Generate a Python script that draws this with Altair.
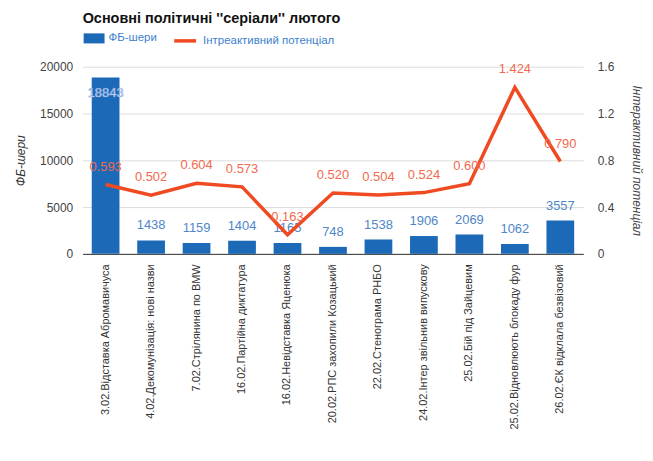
import altair as alt
import pandas as pd

categories = [
    "3.02.Відставка Абромавичуса",
    "4.02.Декомунізація: нові назви",
    "7.02.Стрілянина по BMW",
    "16.02.Партійна диктатура",
    "16.02.Невідставка Яценюка",
    "20.02.РПС захопили Козацький",
    "22.02.Стенограма РНБО",
    "24.02.Інтер звільнив випускову",
    "25.02.Бій під Зайцевим",
    "25.02.Відновлюють блокаду фур",
    "26.02.ЄК відклала безвізовий",
]
fb_shares = [18843, 1438, 1159, 1404, 1165, 748, 1538, 1906, 2069, 1062, 3557]
potential = [0.593, 0.502, 0.604, 0.573, 0.163, 0.520, 0.504, 0.524, 0.600, 1.424, 0.790]
left_ticks = [0, 5000, 10000, 15000, 20000]
right_ticks = [0, 0.4, 0.8, 1.2, 1.6]

df = pd.DataFrame({"cat": categories, "fb": fb_shares, "pot": potential})

FONT = "Arial, Liberation Sans"
BLUE = "#1c69b7"
RED = "#f04a22"

x = alt.X(
    "cat:N",
    sort=None,
    title=None,
    scale=alt.Scale(paddingInner=0.39, paddingOuter=0.2, round=False),
    axis=alt.Axis(
        labelAngle=270,
        labelAlign="right",
        labelBaseline="middle",
        labelPadding=10,
        labelFontSize=11,
        labelColor="#333",
        labelFont=FONT,
        ticks=False,
        domainColor="#333",
        labelLimit=400,
    ),
)

base = alt.Chart(df)

bars = base.mark_bar(color=BLUE).encode(
    x=x,
    y=alt.Y(
        "fb:Q",
        scale=alt.Scale(domain=[0, 20000]),
        axis=alt.Axis(
            values=left_ticks,
            format="d",
            title="ФБ-шери",
            titleFontStyle="italic",
            titleFontWeight="normal",
            titleFontSize=12,
            titleColor="#333",
            titleFont=FONT,
            titlePadding=12,
            labelFontSize=12,
            labelColor="#444",
            labelFont=FONT,
            labelPadding=10,
            ticks=False,
            domain=False,
            grid=True,
            gridColor="#dddddd",
        ),
    ),
    fill=alt.Fill(
        "s1:N",
        scale=alt.Scale(range=[BLUE]),
        legend=alt.Legend(
            title=None,
            orient="none",
            legendX=1,
            legendY=-39,
            symbolType="M-1,-0.48H1V0.48H-1Z",
            symbolSize=441,
            symbolStrokeWidth=0,
            labelFontSize=11.5,
            labelColor="#3d7fcc",
            labelFont=FONT,
            labelOffset=4,
            padding=0,
        ),
    ),
).transform_calculate(s1="'ФБ-шери'")

bar_text = base.transform_filter("datum.fb < 15000").mark_text(
    dy=-15, fontSize=13, color="#4f86c9", font=FONT
).encode(x=x, y="fb:Q", text=alt.Text("fb:Q", format="d"))

bar_text_in = base.transform_filter("datum.fb >= 15000").mark_text(
    dy=16, fontSize=13, fill="#ffffff", stroke="#7aa3dc", strokeWidth=0.6, font=FONT
).encode(x=x, y="fb:Q", text=alt.Text("fb:Q", format="d"))

line = base.mark_line(strokeWidth=3.5).encode(
    x=x,
    y=alt.Y(
        "pot:Q",
        scale=alt.Scale(domain=[0, 1.6]),
        axis=alt.Axis(
            orient="right",
            values=right_ticks,
            format=".1~f",
            title="Інтерактивний потенціал",
            titleAngle=90,
            titleFontStyle="italic",
            titleFontWeight="normal",
            titleFontSize=12,
            titleColor="#444",
            titleFont=FONT,
            titlePadding=16,
            labelFontSize=12,
            labelColor="#444",
            labelFont=FONT,
            labelPadding=14,
            ticks=False,
            domain=False,
            grid=False,
        ),
    ),
    stroke=alt.Stroke(
        "s2:N",
        scale=alt.Scale(range=[RED]),
        legend=alt.Legend(
            title=None,
            orient="none",
            legendX=90,
            legendY=-39,
            symbolType="stroke",
            symbolSize=484,
            symbolStrokeWidth=3.5,
            labelFontSize=11.5,
            labelColor="#3d7fcc",
            labelFont=FONT,
            labelOffset=5,
            padding=0,
        ),
    ),
).transform_calculate(s2="'Інтреактивний потенціал'")

line_text = base.mark_text(dy=-18, fontSize=13, color="#f26a4f", font=FONT).encode(
    x=x, y="pot:Q", text=alt.Text("pot:Q", format=".3f")
)

chart = (
    alt.layer(
        alt.layer(bars, bar_text, bar_text_in),
        alt.layer(line, line_text),
    )
    .resolve_scale(y="independent", fill="independent", stroke="independent")
    .properties(
        width=503,
        height=188,
        autosize=alt.AutoSizeParams(type="none"),
        padding={"left": 75, "top": 58, "right": 62, "bottom": 190},
        title=alt.TitleParams(
            "Основні політичні ''серіали'' лютого",
            anchor="start",
            frame="group",
            fontSize=14.5,
            fontWeight="bold",
            font=FONT,
            color="#111",
            offset=1,
        ),
    )
    .configure_view(stroke=None)
)

chart.save("out.html", embed_options={"renderer": "svg", "actions": False})
